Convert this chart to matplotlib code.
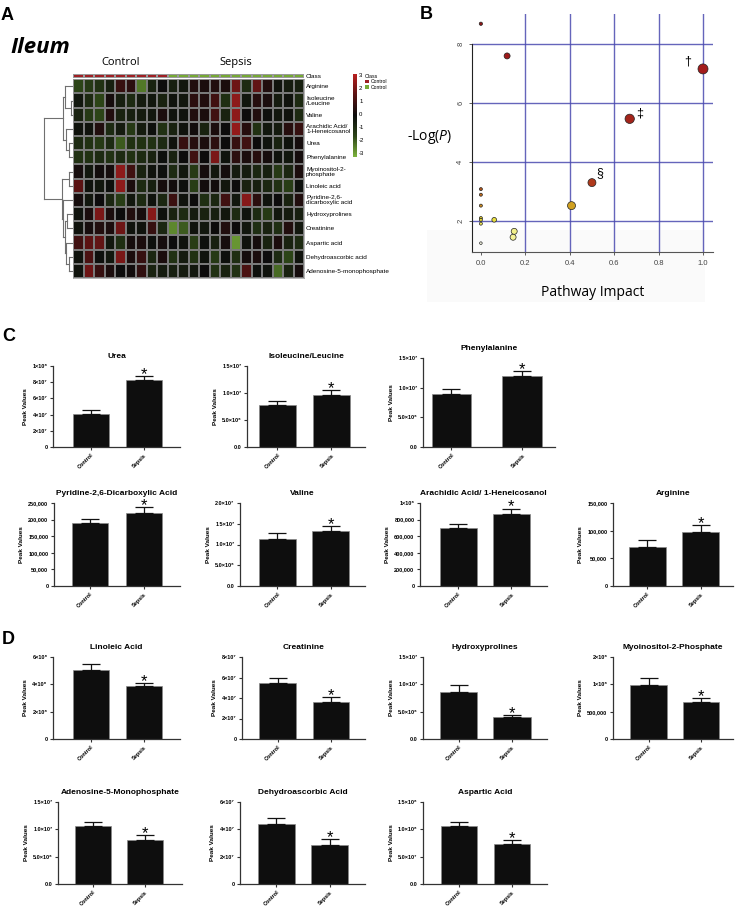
import numpy as np
import matplotlib
matplotlib.use("Agg")
import matplotlib.pyplot as plt
from matplotlib.colors import LinearSegmentedColormap, ListedColormap, Normalize
from matplotlib.cm import ScalarMappable
from matplotlib.patches import Patch, Rectangle

plt.rcParams['font.family'] = ['Liberation Sans', 'DejaVu Sans']
plt.rcParams['axes.unicode_minus'] = False
plt.rcParams['mathtext.fontset'] = 'custom'
plt.rcParams['mathtext.rm'] = 'Open Sans'
plt.rcParams['mathtext.it'] = 'Open Sans:italic'

W, H = 740, 907

# ---------------- Panel A: heatmap ----------------
heat_labels = ["Arginine", "Isoleucine\n/Leucine", "Valine", "Arachidic Acid/\n1-Heneicosanol",
               "Urea", "Phenylalanine", "Myoinositol-2-\nphosphate", "Linoleic acid",
               "Pyridine-2,6-\ndicarboxylic acid", "Hydroxyprolines", "Creatinine",
               "Aspartic acid", "Dehydroascorbic acid", "Adenosine-5-monophosphate"]
n_control = 9
n_sepsis = 13
heat_values = np.array([
    [-1.5, -1.2, -1.0, -0.5, 0.8, 0.6, -2.2, -0.6, 0.0, -0.5, -0.3, 0.4, 0.3, 0.4, 0.3, 1.8, -0.8, 1.6, 0.4, -0.2, -0.4, -0.5],
    [-0.3, -0.8, -1.5, 0.2, -0.5, -0.8, -0.4, -0.3, -0.6, -0.2, -0.3, 0.6, 0.4, 1.0, -0.9, 2.3, -0.3, 0.5, 0.3, -0.4, -0.2, -0.8],
    [-0.6, -1.2, -1.5, 0.4, -0.6, -0.5, -0.4, -0.3, 0.3, -0.2, -0.2, 0.4, 0.3, 1.0, -0.6, 2.3, 0.0, 0.4, -0.1, -0.3, -0.2, -0.8],
    [-0.2, -0.2, 0.4, -0.8, -0.4, -1.2, -0.4, -0.1, -1.0, -0.6, -0.2, 0.1, -0.6, 0.3, 0.0, 2.4, 0.5, -1.0, -0.3, -0.4, 0.5, 0.8],
    [-0.8, -1.0, -1.2, -0.8, -1.8, -1.0, -1.0, -1.0, -0.8, -0.2, 0.8, 0.5, 0.3, 0.6, 0.0, 0.8, 1.0, 0.0, -0.2, -0.6, -0.2, 0.2],
    [-1.0, -1.0, -0.8, -1.0, -0.8, -1.0, -0.8, -0.6, -0.1, -0.6, 0.0, 1.0, 0.0, 2.0, -0.2, 0.6, 0.3, 0.5, 0.2, -0.2, -0.3, 0.2],
    [0.2, -0.3, 0.1, 0.2, 2.3, 1.0, -0.6, -0.2, -0.1, -0.8, -0.3, -1.2, 0.2, -0.3, 0.2, -0.4, -0.4, -0.7, -0.5, -1.2, -0.7, 0.3],
    [1.5, -0.2, -0.3, -0.1, 2.3, 0.3, -0.8, -0.5, 0.2, 0.1, -0.1, -1.3, 0.1, 0.1, -0.3, 0.0, -0.6, -0.5, -0.7, -1.0, -1.3, -0.1],
    [0.2, -0.3, 0.0, -0.7, -1.3, -0.3, -0.8, -0.2, -0.7, 0.9, -0.2, 0.0, -0.9, -0.7, 1.0, -0.3, 2.2, 0.6, -0.2, 0.0, -0.6, 0.4],
    [-0.2, 0.3, 2.0, 0.3, 0.0, 0.4, 0.2, 2.2, -0.1, -0.6, -0.8, -0.4, -0.6, -0.5, -0.3, -0.8, -0.2, -0.8, -1.2, -0.3, -0.4, -0.5],
    [-0.2, 0.2, 0.4, 0.3, 1.8, -0.2, -0.2, 0.8, -0.7, -2.4, -1.8, -0.2, -0.3, 0.0, 0.4, 0.0, -0.3, -0.9, -0.6, -0.9, 0.4, -0.3],
    [1.0, 1.5, 1.6, -0.3, -0.9, 0.2, 0.3, -0.1, 0.2, 0.0, -0.2, -1.3, -0.1, -0.5, 0.2, -2.6, -0.2, 0.2, -0.6, 0.3, -0.6, -0.8],
    [-0.2, 1.2, -0.1, -0.3, 2.0, 0.3, 0.8, -0.7, 0.3, -1.0, -0.4, -1.0, -0.2, -1.2, -0.1, -0.9, 0.2, 0.3, 0.0, -0.8, -1.5, -0.2],
    [-0.2, 1.8, 0.8, 0.3, 0.0, 0.1, 0.7, -0.6, -0.4, -0.5, -0.4, -0.3, 0.0, -1.0, -0.6, -1.0, 1.2, -0.1, -0.2, -2.0, -0.6, 0.2],
])
# row dendrogram: (child a, child b, height); leaves 0..13, new nodes 14..
dendro_merges = [(1, 2, 0.08), (0, 14, 0.28), (4, 5, 0.13), (3, 16, 0.24), (15, 17, 0.33),
                 (6, 7, 0.13), (9, 10, 0.20), (12, 13, 0.13), (11, 21, 0.24), (20, 22, 0.29),
                 (8, 23, 0.33), (19, 24, 0.38), (18, 25, 1.0)]
class_red, class_green = "#9e1f24", "#76a935"

# ---------------- Panel B: pathway impact ----------------
path_impact = [0.0, 0.118, 1.0, 0.67, 0.5, 0.408, 0.0, 0.0, 0.0, 0.0, 0.0, 0.0, 0.06, 0.15, 0.145, 0.0]
path_logp = [8.67, 7.58, 7.14, 5.45, 3.29, 2.51, 3.07, 2.88, 2.51, 2.09, 2.03, 1.90, 2.03, 1.64, 1.44, 1.24]
path_size = [5.6, 18.7, 52, 45, 33, 33, 4.7, 4.7, 4.7, 4.7, 4.7, 4.7, 11.4, 18.7, 18.7, 3.5]
path_color = ['#8e1616', '#9e1a1a', '#a31c1c', '#a3241a', '#b03a1c', '#d0a020', '#b0561c', '#c06a1c',
              '#cc8a20', '#e0cc30', '#e4d838', '#ece458', '#eae040', '#f2f08a', '#f4f296', '#fbfbe8']
path_marks = [("\u2020", 0.933, 7.39), ("\u2021", 0.716, 5.64), ("\u00a7", 0.535, 3.61)]

# ---------------- Panels C, D: bar charts ----------------
groups = ["Control", "Sepsis"]
bar_titles = ["Urea", "Isoleucine/Leucine", "Phenylalanine",
              "Pyridine-2,6-Dicarboxylic Acid", "Valine", "Arachidic Acid/ 1-Heneicosanol", "Arginine",
              "Linoleic Acid", "Creatinine", "Hydroxyprolines", "Myoinositol-2-Phosphate",
              "Adenosine-5-Monophosphate", "Dehydroascorbic Acid", "Aspartic Acid"]
ctrl_mean = [4.13e7, 7.69e6, 9.0e6, 189000, 1.13e7, 696000, 71000,
             5.05e8, 5.43e7, 8.65e6, 0.988e6, 1.056e7, 4.42e7, 1.063e8]
ctrl_sem = [0.47e7, 0.86e6, 0.85e6, 12000, 1.5e6, 49000, 13000,
            0.42e8, 0.49e7, 1.23e6, 0.12e6, 0.074e7, 0.41e7, 0.077e8]
seps_mean = [8.26e7, 9.67e6, 1.205e7, 219000, 1.336e7, 862000, 98000,
             3.88e8, 3.64e7, 4.08e6, 0.68e6, 8.14e6, 2.89e7, 7.23e7]
seps_sem = [0.46e7, 0.8e6, 0.75e6, 18000, 1.04e6, 69000, 12500,
            0.19e8, 0.43e7, 0.31e6, 0.065e6, 0.79e6, 0.37e7, 0.77e7]
y_ticks = [[0, 2e7, 4e7, 6e7, 8e7, 1e8], [0, 5e6, 1e7, 1.5e7], [0, 5e6, 1e7, 1.5e7],
           [0, 5e4, 1e5, 1.5e5, 2e5, 2.5e5], [0, 5e6, 1e7, 1.5e7, 2e7], [0, 2e5, 4e5, 6e5, 8e5, 1e6],
           [0, 5e4, 1e5, 1.5e5],
           [0, 2e8, 4e8, 6e8], [0, 2e7, 4e7, 6e7, 8e7], [0, 5e6, 1e7, 1.5e7], [0, 5e5, 1e6, 1.5e6],
           [0, 5e6, 1e7, 1.5e7], [0, 2e7, 4e7, 6e7], [0, 5e7, 1e8, 1.5e8]]
y_ticklabels = [["0", "2×10⁷", "4×10⁷", "6×10⁷", "8×10⁷", "1×10⁸"],
                ["0.0", "5.0×10⁶", "1.0×10⁷", "1.5×10⁷"],
                ["0.0", "5.0×10⁶", "1.0×10⁷", "1.5×10⁷"],
                ["0", "50,000", "100,000", "150,000", "200,000", "250,000"],
                ["0.0", "5.0×10⁶", "1.0×10⁷", "1.5×10⁷", "2.0×10⁷"],
                ["0", "200,000", "400,000", "600,000", "800,000", "1×10⁶"],
                ["0", "50,000", "100,000", "150,000"],
                ["0", "2×10⁸", "4×10⁸", "6×10⁸"],
                ["0", "2×10⁷", "4×10⁷", "6×10⁷", "8×10⁷"],
                ["0.0", "5.0×10⁶", "1.0×10⁷", "1.5×10⁷"],
                ["0", "500,000", "1×10⁶", "2×10⁶"],
                ["0.0", "5.0×10⁶", "1.0×10⁷", "1.5×10⁷"],
                ["0", "2×10⁷", "4×10⁷", "6×10⁷"],
                ["0.0", "5.0×10⁷", "1.0×10⁸", "1.5×10⁸"]]

# layout of each bar chart in pixels: left, right, top, bottom, xlim0, xlim1, bar width
bar_layout = [(53, 180, 366, 447, -0.72, 1.68, 0.68), (247, 365, 366, 447, -0.56, 1.62, 0.68),
              (423, 555, 358, 447, -0.40, 1.46, 0.56),
              (54, 180, 503, 586, -0.67, 1.67, 0.67), (240, 365, 503, 586, -0.70, 1.64, 0.69),
              (420, 547, 503, 586, -0.72, 1.67, 0.70), (613, 733, 503, 586, -0.64, 1.60, 0.69),
              (53, 180, 657, 739, -0.72, 1.68, 0.68), (242, 365, 657, 739, -0.67, 1.64, 0.69),
              (423, 547, 657, 739, -0.67, 1.66, 0.70), (613, 733, 657, 739, -0.68, 1.61, 0.70),
              (58, 182, 802, 884, -0.67, 1.71, 0.69), (240, 365, 802, 884, -0.68, 1.66, 0.69),
              (423, 547, 802, 884, -0.67, 1.66, 0.68)]


def fig_rect(l, t, r, b):
    return [l / W, 1 - b / H, (r - l) / W, (b - t) / H]


fig = plt.figure(figsize=(W / 100, H / 100), dpi=100)

# panel letters and titles
for letter, x, y in [("A", 1, 20), ("B", 420, 19), ("C", 2, 341), ("D", 2, 644)]:
    fig.text(x / W, 1 - y / H, letter, fontsize=13, fontweight='bold', va='baseline')
fig.text(10 / W, 1 - 53 / H, "Ileum", fontsize=16, fontweight='bold', style='italic',
         family='Open Sans', va='baseline')

# ---- heatmap
heat_cmap = LinearSegmentedColormap.from_list(
    "gbr", [(0.0, "#7db33c"), (0.25, "#2c4417"), (0.5, "#0c0c0c"), (0.75, "#5a1313"), (1.0, "#b81f1f")])
n_rows, n_cols = heat_values.shape
ax_h = fig.add_axes(fig_rect(73, 79.3, 304, 278))
ax_h.pcolormesh(heat_values, cmap=heat_cmap, vmin=-3, vmax=3, edgecolors='#7a7a7a', linewidth=0.3)
ax_h.set_xlim(0, n_cols)
ax_h.set_ylim(n_rows, 0)
ax_h.set_xticks([])
ax_h.yaxis.tick_right()
ax_h.set_yticks(np.arange(n_rows) + 0.5)
ax_h.set_yticklabels(heat_labels, linespacing=1.0)
ax_h.tick_params(axis='y', length=0, pad=1.5, labelsize=4.6)
for s in ax_h.spines.values():
    s.set_color('#999999')
    s.set_linewidth(0.5)

ax_c = fig.add_axes(fig_rect(73, 74, 304, 77.5))
class_codes = np.array([[0] * n_control + [1] * n_sepsis])
ax_c.pcolormesh(class_codes, cmap=ListedColormap([class_red, class_green]), vmin=0, vmax=1,
                edgecolors='#9a9a9a', linewidth=0.3)
ax_c.set_xlim(0, n_cols)
ax_c.set_xticks([])
ax_c.yaxis.tick_right()
ax_c.set_yticks([0.5])
ax_c.set_yticklabels(["Class"])
ax_c.tick_params(axis='y', length=0, pad=1.5, labelsize=4.6)
for s in ax_c.spines.values():
    s.set_visible(False)
for name, cx in [("Control", n_control / 2), ("Sepsis", n_control + n_sepsis / 2)]:
    ax_c.annotate(name, xy=(cx, 1), xycoords=('data', 'axes fraction'), xytext=(0, 8),
                  textcoords='offset points', ha='center', va='center', fontsize=8, family='Open Sans')

# dendrogram
ax_d = fig.add_axes(fig_rect(43, 79.3, 73, 278))
node_y = {i: i + 0.5 for i in range(n_rows)}
node_h = {i: 0.0 for i in range(n_rows)}
for k, (a, b, h) in enumerate(dendro_merges):
    nid = n_rows + k
    for c in (a, b):
        ax_d.plot([node_h[c], h], [node_y[c], node_y[c]], color='#707070', lw=0.8)
    ax_d.plot([h, h], [node_y[a], node_y[b]], color='#707070', lw=0.8)
    node_y[nid] = (node_y[a] + node_y[b]) / 2
    node_h[nid] = h
ax_d.set_xlim(1.03, 0)
ax_d.set_ylim(n_rows, 0)
ax_d.axis('off')

# colour key
cax = fig.add_axes(fig_rect(353, 74, 357, 157))
cb = fig.colorbar(ScalarMappable(norm=Normalize(-3.3, 3.1), cmap=heat_cmap), cax=cax,
                  ticks=[-3, -2, -1, 0, 1, 2, 3])
cb.outline.set_visible(False)
cax.tick_params(length=0, labelsize=4.3, pad=1.5)

leg = fig.legend(handles=[Patch(facecolor=class_red), Patch(facecolor=class_green)],
                 labels=["Control", "Control"], title="Class", loc='upper left',
                 bbox_to_anchor=(362 / W, 1 - 71 / H), fontsize=3.6, title_fontsize=3.8,
                 frameon=False, handlelength=0.8, handleheight=0.8, borderpad=0,
                 labelspacing=0.15, handletextpad=0.4, alignment='left')

# ---- panel B
fig.add_artist(Rectangle((427 / W, 1 - 302 / H), (705 - 427) / W, (302 - 230) / H,
                         transform=fig.transFigure, facecolor='#fafafa', edgecolor='none', zorder=0))
ax_b = fig.add_axes(fig_rect(472, 14, 713, 252))
ax_b.set_facecolor('none')
ax_b.set_xlim(-0.04, 1.045)
ax_b.set_ylim(0.94, 9.0)
for gx in [0.2, 0.4, 0.6, 0.8, 1.0]:
    ax_b.axvline(gx, color='#4a4ab0', lw=1.0, alpha=0.85, zorder=1)
for gy in [2, 4, 6, 8]:
    ax_b.axhline(gy, color='#4a4ab0', lw=1.0, alpha=0.85, zorder=1)
ax_b.scatter(path_impact, path_logp, s=path_size, c=path_color, edgecolors='#222222',
             linewidths=0.5, zorder=3)
for sym, mx, my in path_marks:
    ax_b.text(mx, my, sym, fontsize=9, ha='center', va='center', zorder=4)
ax_b.set_xticks([0.0, 0.2, 0.4, 0.6, 0.8, 1.0])
ax_b.set_xticklabels(["0.0", "0.2", "0.4", "0.6", "0.8", "1.0"])
ax_b.set_yticks([2, 4, 6, 8])
ax_b.tick_params(axis='both', labelsize=5.5, colors='#444444', length=2, width=0.6)
ax_b.tick_params(axis='y', labelrotation=90)
for lab in ax_b.get_yticklabels():
    lab.set_va('center')
ax_b.spines['top'].set_visible(False)
ax_b.spines['right'].set_visible(False)
ax_b.spines['left'].set_bounds(0.94, 8)
ax_b.spines['left'].set_color('#222222')
ax_b.spines['bottom'].set_color('#555555')
for s in ('left', 'bottom'):
    ax_b.spines[s].set_linewidth(0.8)
fig.text(430 / W, 1 - 137 / H, r'-Log($\mathit{P}$)', fontsize=10, family='Open Sans',
         ha='center', va='center')
fig.text(593 / W, 1 - 293 / H, "Pathway Impact", fontsize=10, family='Open Sans',
         ha='center', va='center')

# ---- panels C and D
for i, title in enumerate(bar_titles):
    l, r, t, b, x0, x1, bw = bar_layout[i]
    ax = fig.add_axes(fig_rect(l, t, r, b))
    means = [ctrl_mean[i], seps_mean[i]]
    ax.bar([0, 1], means, width=bw, color='#0e0e0e', edgecolor='#8a8a8a', linewidth=0.5, zorder=2)
    ax.errorbar([0, 1], means, yerr=[[0, 0], [ctrl_sem[i], seps_sem[i]]], fmt='none',
                ecolor='#111111', elinewidth=0.9, capsize=6.5, capthick=0.9, zorder=3)
    ax.set_xlim(x0, x1)
    ax.set_ylim(0, y_ticks[i][-1])
    ax.set_yticks(y_ticks[i])
    ax.set_yticklabels(y_ticklabels[i], fontsize=4, fontweight='bold')
    ax.set_xticks([0, 1])
    ax.set_xticklabels(groups, rotation=45, ha='right', rotation_mode='anchor',
                       fontsize=4, fontweight='bold')
    ax.tick_params(length=2.5, width=0.8, pad=1.5, color='#333333')
    for s in ('top', 'right'):
        ax.spines[s].set_visible(False)
    for s in ('left', 'bottom'):
        ax.spines[s].set_linewidth(0.9)
        ax.spines[s].set_color('#333333')
    ax.set_title(title, fontsize=6, fontweight='bold', pad=6)
    ax.set_ylabel("Peak Values", fontsize=4.6, fontweight='bold', labelpad=3)
    ax.annotate("*", xy=(1, seps_mean[i] + seps_sem[i]), xytext=(0, -2), textcoords='offset points',
                ha='center', va='baseline', fontsize=12, annotation_clip=False)

fig.savefig("out.png", dpi=100)
